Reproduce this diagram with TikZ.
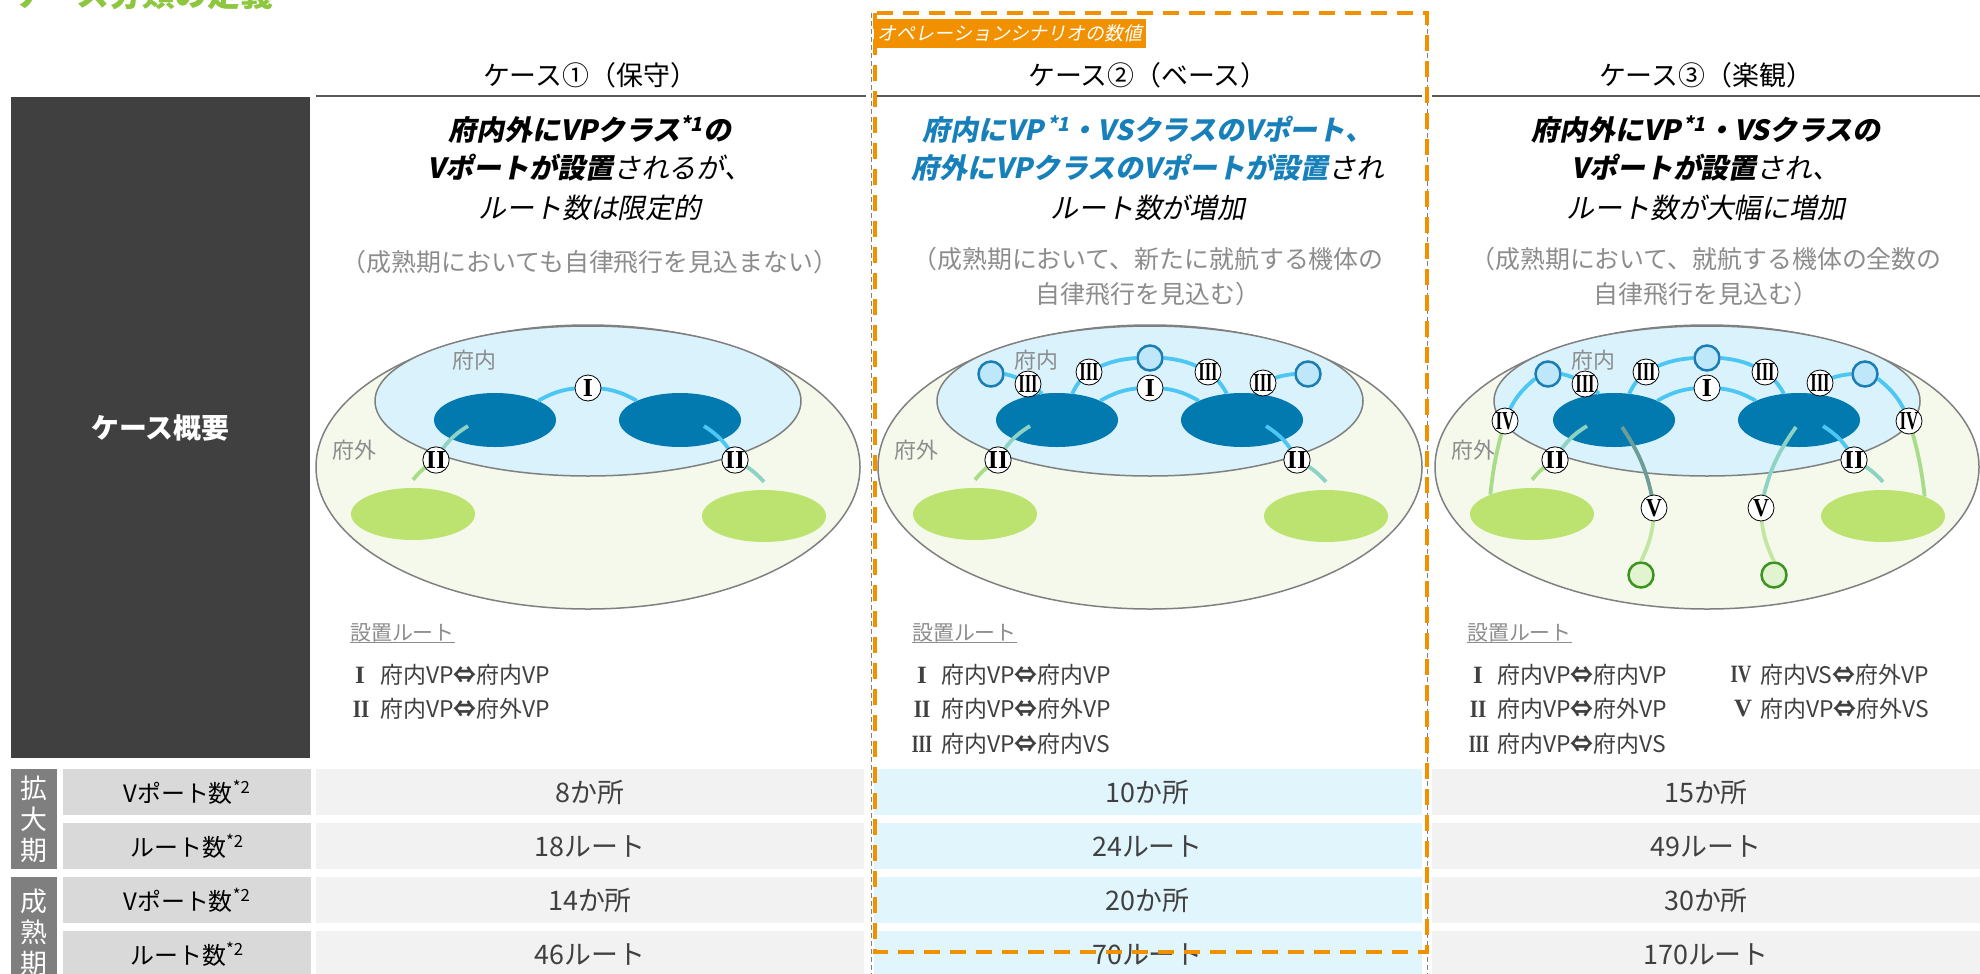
\documentclass[tikz,border=0pt]{standalone}
\usepackage{fontspec}
\setmainfont{Noto Sans CJK JP}[AutoFakeSlant=0.2]
\newfontfamily\leadfont{Noto Sans CJK JP}[FakeSlant=0.2]
\newfontfamily\numfont{Liberation Serif}
\usetikzlibrary{shapes.geometric}

\definecolor{titlegreen}{HTML}{8DC63F}
\definecolor{darkbox}{HTML}{404040}
\definecolor{rulegrey}{HTML}{595959}
\definecolor{edgegrey}{HTML}{808080}
\definecolor{softgrey}{HTML}{8C8C8C}
\definecolor{textgrey}{HTML}{404040}
\definecolor{leadblue}{HTML}{1780BA}
\definecolor{outerfill}{HTML}{F4F9EB}
\definecolor{innerfill}{HTML}{D9F2FC}
\definecolor{vpblue}{HTML}{027AB0}
\definecolor{vpgreen}{HTML}{BCE36F}
\definecolor{vsblue}{HTML}{BEE8FA}
\definecolor{vsbluerim}{HTML}{1A7DB4}
\definecolor{vsgreen}{HTML}{E2F3D0}
\definecolor{vsgreenrim}{HTML}{3A941F}
\definecolor{routeblue}{HTML}{4CC6F3}
\definecolor{routeteal}{HTML}{8DD2C3}
\definecolor{routegreen}{HTML}{A8DC89}
\definecolor{routedark}{HTML}{6E9C97}
\definecolor{routepale}{HTML}{C3E7A2}
\definecolor{scenario}{HTML}{F29100}
\definecolor{periodgrey}{HTML}{7F7F7F}
\definecolor{labelgrey}{HTML}{D9D9D9}
\definecolor{cellgrey}{HTML}{F2F2F2}
\definecolor{cellblue}{HTML}{E1F5FD}

\newcommand{\both}{{\bfseries ⇔}}

\tikzset{
  casehead/.style={inner sep=0pt,font=\fontsize{27}{27}\selectfont},
  lead/.style={inner sep=0pt,font=\leadfont\fontsize{28}{28}\selectfont},
  note/.style={inner sep=0pt,text=softgrey,font=\fontsize{25}{25}\selectfont},
  area/.style={inner sep=0pt,text=softgrey,font=\fontsize{22}{22}\selectfont},
  region/.style={ellipse,draw=edgegrey,line width=1.5bp,inner sep=0pt},
  outerarea/.style={region,fill=outerfill,minimum width=544bp,minimum height=284bp},
  innerarea/.style={region,fill=innerfill,minimum width=426bp,minimum height=150bp},
  vpin/.style={ellipse,fill=vpblue,minimum width=122bp,minimum height=54bp,inner sep=0pt},
  vpout/.style={ellipse,fill=vpgreen,minimum width=124bp,minimum height=52bp,inner sep=0pt},
  vsin/.style={circle,draw=vsbluerim,fill=vsblue,line width=2.5bp,minimum size=25bp,inner sep=0pt},
  vsout/.style={circle,draw=vsgreenrim,fill=vsgreen,line width=2.5bp,minimum size=25bp,inner sep=0pt},
  route/.style={line width=3.8bp},
  badge/.style={circle,draw=black,fill=white,line width=0.8bp,minimum size=26bp,inner sep=0pt,
    font=\numfont\bfseries\fontsize{26}{26}\selectfont},
  legendhead/.style={inner sep=0pt,anchor=west,text=softgrey,font=\fontsize{21}{21}\selectfont},
  legend/.style={inner sep=0pt,anchor=west,text=textgrey,font=\fontsize{23}{23}\selectfont},
  legendno/.style={inner sep=0pt,text=textgrey,font=\numfont\bfseries\fontsize{25}{25}\selectfont},
  period/.style={fill=periodgrey,text=white,minimum width=46bp,inner sep=0pt,align=center,
    font=\fontsize{27}{31}\selectfont},
  labelcell/.style={fill=labelgrey,minimum width=248bp,minimum height=46bp,inner sep=0pt,
    font=\fontsize{24}{24}\selectfont},
  valuecell/.style={fill=cellgrey,minimum width=548bp,minimum height=46bp,inner sep=0pt,
    text=textgrey,font=\fontsize{27}{27}\selectfont},
  basecell/.style={valuecell,fill=cellblue},
  headrule/.style={draw=rulegrey,line width=2bp},
  colsep/.style={draw=edgegrey,line width=1bp,dash pattern=on 5bp off 3bp},
  scenariobox/.style={draw=scenario,line width=3.5bp,dash pattern=on 16bp off 10bp}
}

\begin{document}
\begin{tikzpicture}[x=1bp,y=-1bp]
\useasboundingbox (0,0) rectangle (1980,974);

\node[anchor=base west,inner sep=0pt,text=titlegreen,font=\bfseries\fontsize{33}{33}\selectfont] (title) at (12,6) {ケース分類の定義};

\node[fill=darkbox,minimum width=299bp,minimum height=661bp,inner sep=0pt,text=white,
  font=\bfseries\fontsize{28}{28}\selectfont] (overview) at (160.5,427.5) {ケース概要};

\node[casehead] (head1) at (590,75) {ケース①（保守）};
\node[casehead] (head2) at (1148,75) {ケース②（ベース）};
\node[casehead] (head3) at (1706,75) {ケース③（楽観）};
\draw[headrule] (316,96) -- (866,96);
\draw[headrule] (875,96) -- (1422,96);
\draw[headrule] (1432,96) -- (1980,96);

\node[lead] (lead1a) at (590,129) {\bfseries 府内外にVPクラス\textsuperscript{*1}の};
\node[lead] (lead1b) at (590,168) {{\bfseries Vポートが設置}されるが、};
\node[lead] (lead1c) at (590,208) {ルート数は限定的};
\node[lead,text=leadblue] (lead2a) at (1148,129) {\bfseries 府内にVP\textsuperscript{\,*1}・VSクラスのVポート、};
\node[lead] (lead2b) at (1148,168) {{\bfseries\color{leadblue}府外にVPクラスのVポートが設置}され};
\node[lead] (lead2c) at (1148,208) {ルート数が増加};
\node[lead] (lead3a) at (1706,129) {\bfseries 府内外にVP\textsuperscript{\,*1}・VSクラスの};
\node[lead] (lead3b) at (1706,168) {{\bfseries Vポートが設置}され、};
\node[lead] (lead3c) at (1706,208) {ルート数が大幅に増加};

\node[note] (note1) at (590,262) {（成熟期においても自律飛行を見込まない）};
\node[note] (note2a) at (1148,259) {（成熟期において、新たに就航する機体の};
\node[note] (note2b) at (1148,294) {自律飛行を見込む）};
\node[note] (note3a) at (1706,259) {（成熟期において、就航する機体の全数の};
\node[note] (note3b) at (1706,294) {自律飛行を見込む）};

\foreach \cx/\n in {588/1,1150/2,1707/3}{
\begin{scope}[shift={(\cx,0)}]
\node[outerarea] (outer\n) at (0,467) {};
\node[innerarea] (inner\n) at (0,401) {};
\node[area] (naiLabel\n) at (-114,360) {府内};
\node[area] (gaiLabel\n) at (-234,450) {府外};
\node[vpin] (vpL\n) at (-93,420) {};
\node[vpin] (vpR\n) at (92,420) {};
\node[vpout] (opL\n) at (-175,514) {};
\node[vpout] (opR\n) at (176,516) {};
\coordinate (rI\n) at (0,388);
\coordinate (rIIL\n) at (-152,460);
\coordinate (rIIR\n) at (147,460);
\draw[route,routeblue] (vpL\n.north east) to[bend left=15] (rI\n) to[bend left=15] (vpR\n.north west);
\draw[route,routeteal] ([shift={(-27,6)}]vpL\n.center) to[bend right=15] (rIIL\n);
\draw[route,routegreen] (rIIL\n) to[bend right=10] ([yshift=8bp]opL\n.north);
\draw[route,routeblue] ([shift={(24,6)}]vpR\n.center) to[bend left=15] (rIIR\n);
\draw[route,routeteal] (rIIR\n) to[bend left=10] ([yshift=8bp]opR\n.north);
\node[badge] (bI\n) at (rI\n) {I};
\node[badge] (bIIL\n) at (rIIL\n) {II};
\node[badge] (bIIR\n) at (rIIR\n) {II};
\end{scope}}

\foreach \cx/\n in {1150/2,1707/3}{
\begin{scope}[shift={(\cx,0)}]
\node[vsin] (vsL\n) at (-159,374) {};
\node[vsin] (vsT\n) at (0,358) {};
\node[vsin] (vsR\n) at (158,374) {};
\coordinate (rIIIa\n) at (-122,384);
\coordinate (rIIIb\n) at (-61,372);
\coordinate (rIIIc\n) at (58,372);
\coordinate (rIIId\n) at (113,383);
\draw[route,routeblue] (vsL\n.east) to[bend left=10] (rIIIa\n) to[bend left=10] (vpL\n.120);
\draw[route,routeblue] (vpL\n.60) to[bend left=12] (rIIIb\n) to[bend left=12] (vsT\n.west);
\draw[route,routeblue] (vsT\n.east) to[bend left=12] (rIIIc\n) to[bend left=12] (vpR\n.120);
\draw[route,routeblue] (vsR\n.west) to[bend right=10] (rIIId\n) to[bend right=10] (vpR\n.60);
\foreach \b in {a,b,c,d}
  \node[badge] (bIII\b\n) at (rIII\b\n) {\scalebox{0.64}[1]{III}};
\end{scope}}

\begin{scope}[shift={(1707,0)}]
\node[vsout] (gsL) at (-66,575) {};
\node[vsout] (gsR) at (67,575) {};
\coordinate (rIVL) at (-202,421);
\coordinate (rIVR) at (202,421);
\coordinate (rVL) at (-53,508);
\coordinate (rVR) at (54,508);
\draw[route,routeblue] (vsL3.200) to[bend right=15] (rIVL);
\draw[route,routegreen] (rIVL) to[bend right=5] (opL3.155);
\draw[route,routeblue] (vsR3.340) to[bend left=15] (rIVR);
\draw[route,routegreen] (rIVR) to[bend left=5] (opR3.25);
\draw[route,routedark] ([shift={(8,7)}]vpL3.center) to[bend left=12] (rVL);
\draw[route,routepale] (rVL) to[bend left=12] (gsL.north);
\draw[route,routeteal] ([shift={(-3,7)}]vpR3.center) to[bend right=12] (rVR);
\draw[route,routepale] (rVR) to[bend right=12] (gsR.north);
\node[badge] (bIVL) at (rIVL) {\scalebox{0.66}[1]{IV}};
\node[badge] (bIVR) at (rIVR) {\scalebox{0.66}[1]{IV}};
\node[badge] (bVL) at (rVL) {\scalebox{0.85}[1]{V}};
\node[badge] (bVR) at (rVR) {\scalebox{0.85}[1]{V}};
\end{scope}

\node[legendhead] (routes1) at (350,633) {設置ルート};
\draw[softgrey,line width=1.5bp] (routes1.south west) -- (routes1.south east);
\node[legendno] (no1a) at (360,675) {I};
\node[legend] (lg1a) at (380,675) {府内VP\both 府内VP};
\node[legendno] (no1b) at (361,709) {\scalebox{0.85}[1]{II}};
\node[legend] (lg1b) at (380,709) {府内VP\both 府外VP};

\node[legendhead] (routes2) at (912,633) {設置ルート};
\draw[softgrey,line width=1.5bp] (routes2.south west) -- (routes2.south east);
\node[legendno] (no2a) at (922,675) {I};
\node[legend] (lg2a) at (941,675) {府内VP\both 府内VP};
\node[legendno] (no2b) at (922,709) {\scalebox{0.85}[1]{II}};
\node[legend] (lg2b) at (941,709) {府内VP\both 府外VP};
\node[legendno] (no2c) at (922,744) {\scalebox{0.7}[1]{III}};
\node[legend] (lg2c) at (941,744) {府内VP\both 府内VS};

\node[legendhead] (routes3) at (1467,633) {設置ルート};
\draw[softgrey,line width=1.5bp] (routes3.south west) -- (routes3.south east);
\node[legendno] (no3a) at (1478,675) {I};
\node[legend] (lg3a) at (1497,675) {府内VP\both 府内VP};
\node[legendno] (no3b) at (1478,709) {\scalebox{0.85}[1]{II}};
\node[legend] (lg3b) at (1497,709) {府内VP\both 府外VP};
\node[legendno] (no3c) at (1479,744) {\scalebox{0.7}[1]{III}};
\node[legend] (lg3c) at (1497,744) {府内VP\both 府内VS};
\node[legendno] (no3d) at (1741,675) {\scalebox{0.75}[1]{IV}};
\node[legend] (lg3d) at (1760,675) {府内VS\both 府外VP};
\node[legendno] (no3e) at (1743,709) {V};
\node[legend] (lg3e) at (1760,709) {府内VP\both 府外VS};

\node[period,minimum height=100bp] (expand) at (34,819) {拡\\大\\期};
\node[period,minimum height=110bp] (mature) at (34,932) {成\\熟\\期};

\node[labelcell] (lab1) at (187,792) {Vポート数\textsuperscript{*2}};
\node[labelcell] (lab2) at (187,846) {ルート数\textsuperscript{*2}};
\node[labelcell] (lab3) at (187,900) {Vポート数\textsuperscript{*2}};
\node[labelcell] (lab4) at (187,954) {ルート数\textsuperscript{*2}};

\node[valuecell] (val1a) at (590,792) {8か所};
\node[valuecell] (val1b) at (590,846) {18ルート};
\node[valuecell] (val1c) at (590,900) {14か所};
\node[valuecell] (val1d) at (590,954) {46ルート};
\node[basecell] (val2a) at (1147.5,792) {10か所};
\node[basecell] (val2b) at (1147.5,846) {24ルート};
\node[basecell] (val2c) at (1147.5,900) {20か所};
\node[basecell] (val2d) at (1147.5,954) {70ルート};
\node[valuecell] (val3a) at (1706,792) {15か所};
\node[valuecell] (val3b) at (1706,846) {49ルート};
\node[valuecell] (val3c) at (1706,900) {30か所};
\node[valuecell] (val3d) at (1706,954) {170ルート};

\draw[colsep] (871,13) -- (871,974);
\draw[colsep] (1427,13) -- (1427,974);
\draw[scenariobox] (875,13) rectangle (1427,952);
\node[fill=scenario,text=white,anchor=north west,minimum width=272bp,minimum height=29bp,inner sep=0pt,
  font=\leadfont\fontsize{19}{19}\selectfont] (scenario) at (874,19) {オペレーションシナリオの数値};
\end{tikzpicture}
\end{document}
